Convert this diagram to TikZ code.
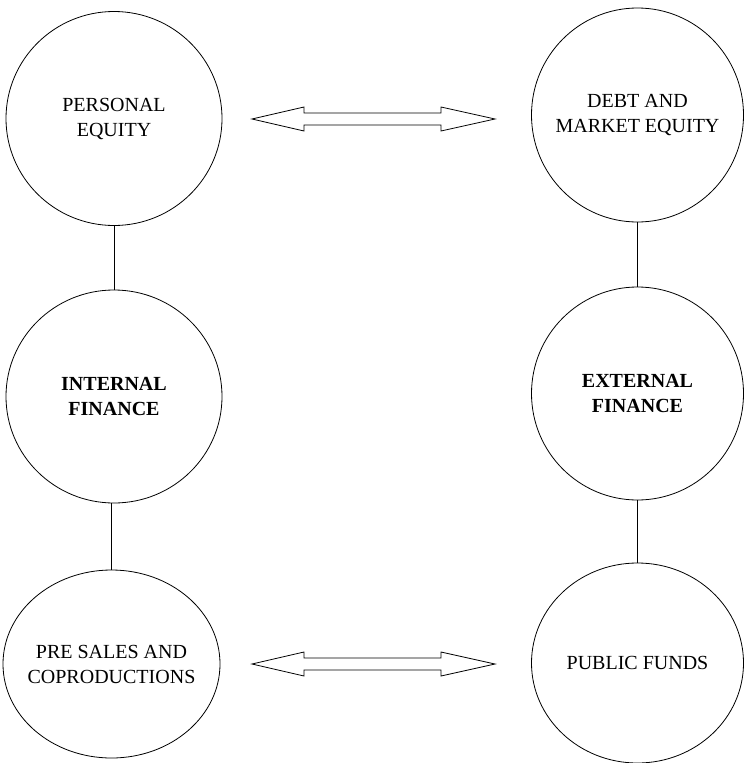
\documentclass[tikz,border=0pt]{standalone}
\usepackage{fontspec}
\setmainfont{Liberation Serif}
\usetikzlibrary{shapes.geometric,calc}
\newcommand\blockarrow[1]{%
  \draw[arrowline] ($(#1)+(-121.5,0)$) -- ++(52,-12) -- ++(0,6) -- ++(137,0) -- ++(0,-6)
    -- ++(54,12) -- ++(-54,12) -- ++(0,-6) -- ++(-137,0) -- ++(0,6) -- cycle;}
\begin{document}
\begin{tikzpicture}[x=1pt,y=-1pt,
  bubble/.style={draw, ellipse, inner sep=0pt, line width=0.8pt},
  txt/.style={align=center, font=\fontsize{20}{25}\selectfont},
  btxt/.style={align=center, font=\fontsize{20}{25}\selectfont\bfseries},
  link/.style={line width=0.8pt},
  arrowline/.style={line width=0.8pt, line join=miter}]
\useasboundingbox (0,0) rectangle (744,763);
\node[bubble, minimum width=216pt, minimum height=214pt,
  label={[txt]center:PERSONAL\\EQUITY}] (pe) at (114,118.5) {};
\node[bubble, minimum width=212pt, minimum height=214pt,
  label={[txt]center:DEBT AND\\MARKET EQUITY}] (dme) at (637.5,115) {};
\node[bubble, minimum width=216pt, minimum height=213pt,
  label={[btxt]center:INTERNAL\\FINANCE}] (inf) at (114,396.5) {};
\node[bubble, minimum width=212pt, minimum height=213pt,
  label={[btxt]center:EXTERNAL\\FINANCE}] (exf) at (637.5,393.5) {};
\node[bubble, minimum width=217pt, minimum height=188pt,
  label={[txt]center:PRE SALES AND\\COPRODUCTIONS}] (psc) at (111.5,664) {};
\node[bubble, minimum width=212pt, minimum height=200pt,
  label={[txt]center:PUBLIC FUNDS}] (pf) at (637.5,663) {};
\draw[link] (pe) -- (inf);
\draw[link] (psc.north) -- (psc.north |- inf.south);
\draw[link] (dme) -- (exf);
\draw[link] (exf) -- (pf);
\coordinate (atop) at (373.5,119);
\coordinate (abot) at (373.5,664);
\blockarrow{atop}
\blockarrow{abot}
\end{tikzpicture}
\end{document}
